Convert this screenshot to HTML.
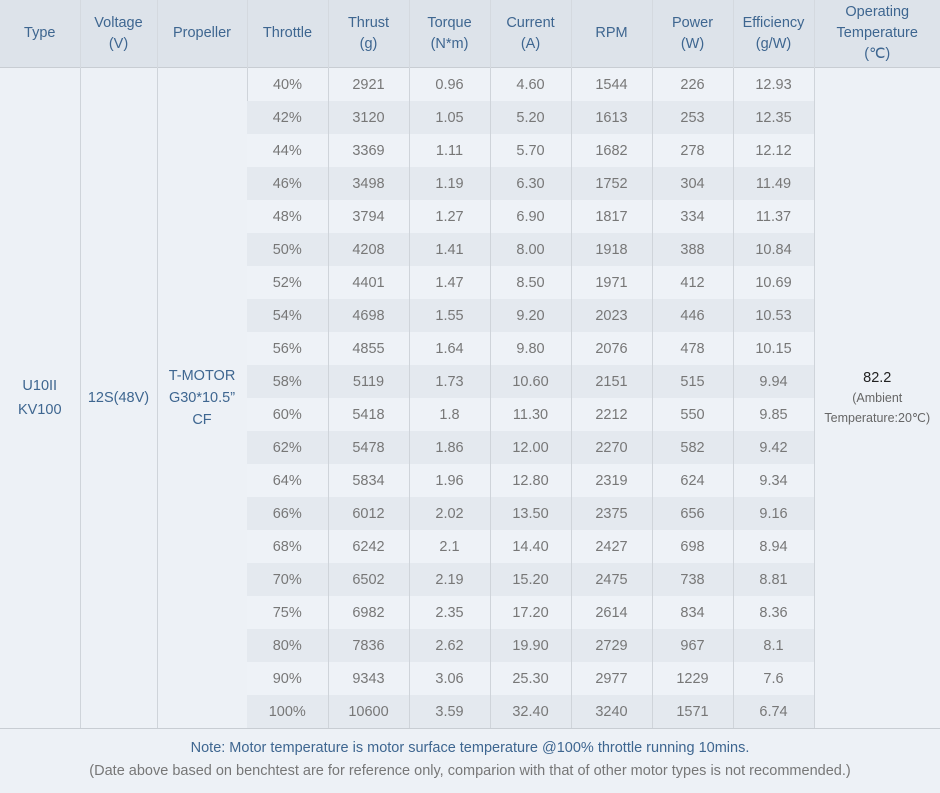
<!DOCTYPE html>
<html><head><style>
body{margin:0;width:940px;height:793px;background:#edf1f6;font-family:"Liberation Sans",sans-serif;overflow:hidden;position:relative}
table{border-collapse:collapse;position:absolute;left:0;top:0;width:940px;table-layout:fixed}
th{background:#dde3ea;color:#3e6690;font-weight:normal;font-size:14.5px;line-height:21px;height:67px;padding:0;border-left:1px solid #d4d9df}
th:first-child{border-left:none}
td{font-size:14.5px;color:#777;text-align:center;height:33px;padding:0;border-left:1px solid #cfd4da}
td:first-child{border-left:none}
tbody tr:nth-child(even) td.d{background:#e4e9ef}
tbody tr:nth-child(odd) td.d{background:#eef2f7}
tbody tr:first-child td{border-top:1px solid #c8cdd3}
td.m{background:#edf1f6;color:#3e6690;border-bottom:1px solid #c8cdd3}
tbody tr:last-child td{border-bottom:1px solid #c8cdd3}
.foot{position:absolute;left:0;width:940px;text-align:center;font-size:14.5px}
</style></head><body>
<table>
<colgroup><col style="width:80px"><col style="width:77px"><col style="width:90px"><col style="width:81px"><col style="width:81px"><col style="width:81px"><col style="width:81px"><col style="width:81px"><col style="width:81px"><col style="width:81px"><col style="width:126px"></colgroup>
<thead><tr><th>Type</th><th>Voltage<br>(V)</th><th>Propeller</th><th>Throttle</th><th>Thrust<br>(g)</th><th>Torque<br>(N*m)</th><th>Current<br>(A)</th><th>RPM</th><th>Power<br>(W)</th><th>Efficiency<br>(g/W)</th><th>Operating<br>Temperature<br>(℃)</th></tr></thead>
<tbody>
<tr><td class="m" rowspan="20" style="line-height:24px">U10II<br>KV100</td><td class="m" rowspan="20">12S(48V)</td><td class="m" rowspan="20" style="line-height:22px">T-MOTOR<br>G30*10.5”<br>CF</td><td class="d">40%</td><td class="d">2921</td><td class="d">0.96</td><td class="d">4.60</td><td class="d">1544</td><td class="d">226</td><td class="d">12.93</td><td class="m" rowspan="20" style="color:#222;font-size:14.5px;line-height:20px">82.2<br><span style="font-size:12.5px;color:#666">(Ambient<br>Temperature:20℃)</span></td></tr>
<tr><td class="d">42%</td><td class="d">3120</td><td class="d">1.05</td><td class="d">5.20</td><td class="d">1613</td><td class="d">253</td><td class="d">12.35</td></tr>
<tr><td class="d">44%</td><td class="d">3369</td><td class="d">1.11</td><td class="d">5.70</td><td class="d">1682</td><td class="d">278</td><td class="d">12.12</td></tr>
<tr><td class="d">46%</td><td class="d">3498</td><td class="d">1.19</td><td class="d">6.30</td><td class="d">1752</td><td class="d">304</td><td class="d">11.49</td></tr>
<tr><td class="d">48%</td><td class="d">3794</td><td class="d">1.27</td><td class="d">6.90</td><td class="d">1817</td><td class="d">334</td><td class="d">11.37</td></tr>
<tr><td class="d">50%</td><td class="d">4208</td><td class="d">1.41</td><td class="d">8.00</td><td class="d">1918</td><td class="d">388</td><td class="d">10.84</td></tr>
<tr><td class="d">52%</td><td class="d">4401</td><td class="d">1.47</td><td class="d">8.50</td><td class="d">1971</td><td class="d">412</td><td class="d">10.69</td></tr>
<tr><td class="d">54%</td><td class="d">4698</td><td class="d">1.55</td><td class="d">9.20</td><td class="d">2023</td><td class="d">446</td><td class="d">10.53</td></tr>
<tr><td class="d">56%</td><td class="d">4855</td><td class="d">1.64</td><td class="d">9.80</td><td class="d">2076</td><td class="d">478</td><td class="d">10.15</td></tr>
<tr><td class="d">58%</td><td class="d">5119</td><td class="d">1.73</td><td class="d">10.60</td><td class="d">2151</td><td class="d">515</td><td class="d">9.94</td></tr>
<tr><td class="d">60%</td><td class="d">5418</td><td class="d">1.8</td><td class="d">11.30</td><td class="d">2212</td><td class="d">550</td><td class="d">9.85</td></tr>
<tr><td class="d">62%</td><td class="d">5478</td><td class="d">1.86</td><td class="d">12.00</td><td class="d">2270</td><td class="d">582</td><td class="d">9.42</td></tr>
<tr><td class="d">64%</td><td class="d">5834</td><td class="d">1.96</td><td class="d">12.80</td><td class="d">2319</td><td class="d">624</td><td class="d">9.34</td></tr>
<tr><td class="d">66%</td><td class="d">6012</td><td class="d">2.02</td><td class="d">13.50</td><td class="d">2375</td><td class="d">656</td><td class="d">9.16</td></tr>
<tr><td class="d">68%</td><td class="d">6242</td><td class="d">2.1</td><td class="d">14.40</td><td class="d">2427</td><td class="d">698</td><td class="d">8.94</td></tr>
<tr><td class="d">70%</td><td class="d">6502</td><td class="d">2.19</td><td class="d">15.20</td><td class="d">2475</td><td class="d">738</td><td class="d">8.81</td></tr>
<tr><td class="d">75%</td><td class="d">6982</td><td class="d">2.35</td><td class="d">17.20</td><td class="d">2614</td><td class="d">834</td><td class="d">8.36</td></tr>
<tr><td class="d">80%</td><td class="d">7836</td><td class="d">2.62</td><td class="d">19.90</td><td class="d">2729</td><td class="d">967</td><td class="d">8.1</td></tr>
<tr><td class="d">90%</td><td class="d">9343</td><td class="d">3.06</td><td class="d">25.30</td><td class="d">2977</td><td class="d">1229</td><td class="d">7.6</td></tr>
<tr><td class="d">100%</td><td class="d">10600</td><td class="d">3.59</td><td class="d">32.40</td><td class="d">3240</td><td class="d">1571</td><td class="d">6.74</td></tr>
</tbody></table>
<div class="foot" style="top:740px;color:#3e6690">Note: Motor temperature is motor surface temperature @100% throttle running 10mins.</div>
<div class="foot" style="top:763px;color:#777">(Date above based on benchtest are for reference only, comparion with that of other motor types is not recommended.)</div>
</body></html>
